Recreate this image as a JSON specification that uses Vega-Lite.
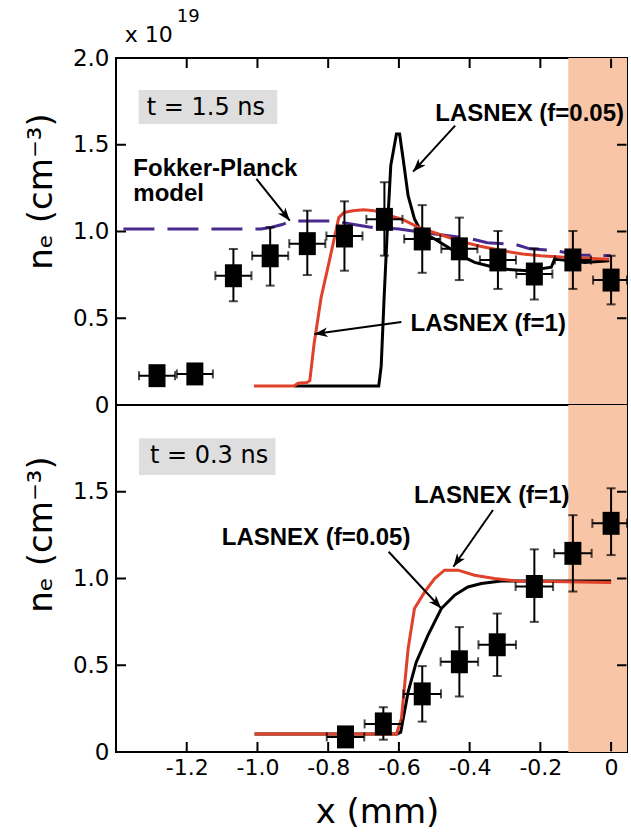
{
  "$schema": "https://vega.github.io/schema/vega-lite/v6.json",
  "background": "white",
  "padding": {"left": 23, "top": 7, "right": 0, "bottom": 0},
  "autosize": {"type": "pad"},
  "bounds": "flush",
  "spacing": 0,
  "config": {
    "view": {"stroke": "black", "strokeWidth": 2},
    "axis": {"domain": false, "grid": false, "ticks": false, "labelColor": "black", "labelFont": "DejaVu Sans", "titleFont": "DejaVu Sans", "titleColor": "black", "titleFontWeight": "normal", "labelFlush": false, "labelOverlap": false, "labelBound": false}
  },
  "datasets": {
    "top_pts": [
      {"x": -1.284, "y": 0.169, "ylo": 0.129, "yhi": 0.209, "xlo": -1.335, "xhi": -1.233},
      {"x": -1.177, "y": 0.179, "ylo": 0.139, "yhi": 0.219, "xlo": -1.228, "xhi": -1.126},
      {"x": -1.068, "y": 0.745, "ylo": 0.598, "yhi": 0.899, "xlo": -1.119, "xhi": -1.017},
      {"x": -0.964, "y": 0.86, "ylo": 0.688, "yhi": 1.024, "xlo": -1.015, "xhi": -0.913},
      {"x": -0.859, "y": 0.93, "ylo": 0.749, "yhi": 1.12, "xlo": -0.91, "xhi": -0.808},
      {"x": -0.754, "y": 0.974, "ylo": 0.774, "yhi": 1.174, "xlo": -0.805, "xhi": -0.703},
      {"x": -0.641, "y": 1.07, "ylo": 0.861, "yhi": 1.284, "xlo": -0.692, "xhi": -0.59},
      {"x": -0.534, "y": 0.957, "ylo": 0.762, "yhi": 1.152, "xlo": -0.585, "xhi": -0.483},
      {"x": -0.429, "y": 0.9, "ylo": 0.72, "yhi": 1.08, "xlo": -0.48, "xhi": -0.378},
      {"x": -0.32, "y": 0.836, "ylo": 0.669, "yhi": 1.003, "xlo": -0.371, "xhi": -0.269},
      {"x": -0.217, "y": 0.755, "ylo": 0.608, "yhi": 0.902, "xlo": -0.268, "xhi": -0.166},
      {"x": -0.108, "y": 0.836, "ylo": 0.669, "yhi": 1.003, "xlo": -0.159, "xhi": -0.057},
      {"x": 0.0, "y": 0.72, "ylo": 0.58, "yhi": 0.86, "xlo": -0.051, "xhi": 0.045}
    ],
    "bot_pts": [
      {"x": -0.751, "y": 0.087, "ylo": 0.047, "yhi": 0.127, "xlo": -0.804, "xhi": -0.698},
      {"x": -0.644, "y": 0.162, "ylo": 0.071, "yhi": 0.258, "xlo": -0.697, "xhi": -0.591},
      {"x": -0.534, "y": 0.335, "ylo": 0.175, "yhi": 0.495, "xlo": -0.587, "xhi": -0.481},
      {"x": -0.429, "y": 0.52, "ylo": 0.32, "yhi": 0.72, "xlo": -0.482, "xhi": -0.376},
      {"x": -0.322, "y": 0.618, "ylo": 0.438, "yhi": 0.798, "xlo": -0.375, "xhi": -0.269},
      {"x": -0.217, "y": 0.954, "ylo": 0.75, "yhi": 1.168, "xlo": -0.27, "xhi": -0.164},
      {"x": -0.108, "y": 1.145, "ylo": 0.925, "yhi": 1.365, "xlo": -0.161, "xhi": -0.055},
      {"x": 0.0, "y": 1.318, "ylo": 1.135, "yhi": 1.52, "xlo": -0.053, "xhi": 0.045}
    ],
    "top_lines": [
      {"model": "Fokker-Planck", "x": -1.379, "y": 1.015},
      {"model": "Fokker-Planck", "x": -0.99, "y": 1.015},
      {"model": "Fokker-Planck", "x": -0.96, "y": 1.025},
      {"model": "Fokker-Planck", "x": -0.93, "y": 1.04},
      {"model": "Fokker-Planck", "x": -0.905, "y": 1.06},
      {"model": "Fokker-Planck", "x": -0.78, "y": 1.06},
      {"model": "Fokker-Planck", "x": -0.74, "y": 1.045},
      {"model": "Fokker-Planck", "x": -0.68, "y": 1.025},
      {"model": "Fokker-Planck", "x": -0.6, "y": 1.015},
      {"model": "Fokker-Planck", "x": -0.55, "y": 1.0},
      {"model": "Fokker-Planck", "x": -0.46, "y": 0.975},
      {"model": "Fokker-Planck", "x": -0.4, "y": 0.96},
      {"model": "Fokker-Planck", "x": -0.35, "y": 0.935},
      {"model": "Fokker-Planck", "x": -0.27, "y": 0.925},
      {"model": "Fokker-Planck", "x": -0.23, "y": 0.9},
      {"model": "Fokker-Planck", "x": -0.16, "y": 0.89},
      {"model": "Fokker-Planck", "x": -0.09, "y": 0.865},
      {"model": "Fokker-Planck", "x": 0.0, "y": 0.86},
      {"model": "f=0.05", "x": -0.895, "y": 0.11},
      {"model": "f=0.05", "x": -0.657, "y": 0.11},
      {"model": "f=0.05", "x": -0.65, "y": 0.227},
      {"model": "f=0.05", "x": -0.642, "y": 0.61},
      {"model": "f=0.05", "x": -0.633, "y": 1.0},
      {"model": "f=0.05", "x": -0.623, "y": 1.38},
      {"model": "f=0.05", "x": -0.607, "y": 1.562},
      {"model": "f=0.05", "x": -0.598, "y": 1.562},
      {"model": "f=0.05", "x": -0.588, "y": 1.418},
      {"model": "f=0.05", "x": -0.574, "y": 1.206},
      {"model": "f=0.05", "x": -0.556, "y": 1.072},
      {"model": "f=0.05", "x": -0.537, "y": 1.0},
      {"model": "f=0.05", "x": -0.499, "y": 0.957},
      {"model": "f=0.05", "x": -0.461, "y": 0.909},
      {"model": "f=0.05", "x": -0.424, "y": 0.861},
      {"model": "f=0.05", "x": -0.386, "y": 0.822},
      {"model": "f=0.05", "x": -0.348, "y": 0.803},
      {"model": "f=0.05", "x": -0.311, "y": 0.784},
      {"model": "f=0.05", "x": -0.235, "y": 0.774},
      {"model": "f=0.05", "x": -0.169, "y": 0.794},
      {"model": "f=0.05", "x": -0.16, "y": 0.841},
      {"model": "f=0.05", "x": -0.075, "y": 0.822},
      {"model": "f=0.05", "x": -0.005, "y": 0.832},
      {"model": "f=1", "x": -1.01, "y": 0.11},
      {"model": "f=1", "x": -0.897, "y": 0.11},
      {"model": "f=1", "x": -0.885, "y": 0.125},
      {"model": "f=1", "x": -0.86, "y": 0.13},
      {"model": "f=1", "x": -0.852, "y": 0.14},
      {"model": "f=1", "x": -0.84, "y": 0.35},
      {"model": "f=1", "x": -0.82, "y": 0.62},
      {"model": "f=1", "x": -0.8, "y": 0.8},
      {"model": "f=1", "x": -0.785, "y": 0.94},
      {"model": "f=1", "x": -0.77, "y": 1.08},
      {"model": "f=1", "x": -0.755, "y": 1.11},
      {"model": "f=1", "x": -0.73, "y": 1.12},
      {"model": "f=1", "x": -0.7, "y": 1.125},
      {"model": "f=1", "x": -0.67, "y": 1.12},
      {"model": "f=1", "x": -0.64, "y": 1.1},
      {"model": "f=1", "x": -0.59, "y": 1.07},
      {"model": "f=1", "x": -0.54, "y": 1.02},
      {"model": "f=1", "x": -0.48, "y": 0.98},
      {"model": "f=1", "x": -0.42, "y": 0.94},
      {"model": "f=1", "x": -0.37, "y": 0.915},
      {"model": "f=1", "x": -0.31, "y": 0.89},
      {"model": "f=1", "x": -0.25, "y": 0.87},
      {"model": "f=1", "x": -0.2, "y": 0.86},
      {"model": "f=1", "x": -0.12, "y": 0.85},
      {"model": "f=1", "x": -0.006, "y": 0.84}
    ],
    "bot_lines": [
      {"model": "f=0.05", "x": -1.008, "y": 0.104},
      {"model": "f=0.05", "x": -0.605, "y": 0.104},
      {"model": "f=0.05", "x": -0.595, "y": 0.114},
      {"model": "f=0.05", "x": -0.574, "y": 0.345},
      {"model": "f=0.05", "x": -0.551, "y": 0.518},
      {"model": "f=0.05", "x": -0.518, "y": 0.672},
      {"model": "f=0.05", "x": -0.48, "y": 0.827},
      {"model": "f=0.05", "x": -0.443, "y": 0.903},
      {"model": "f=0.05", "x": -0.405, "y": 0.951},
      {"model": "f=0.05", "x": -0.367, "y": 0.971},
      {"model": "f=0.05", "x": -0.311, "y": 0.985},
      {"model": "f=0.05", "x": 0.0, "y": 0.985},
      {"model": "f=1", "x": -1.008, "y": 0.104},
      {"model": "f=1", "x": -0.607, "y": 0.104},
      {"model": "f=1", "x": -0.593, "y": 0.191},
      {"model": "f=1", "x": -0.574, "y": 0.595},
      {"model": "f=1", "x": -0.556, "y": 0.827},
      {"model": "f=1", "x": -0.527, "y": 0.923},
      {"model": "f=1", "x": -0.499, "y": 1.0},
      {"model": "f=1", "x": -0.471, "y": 1.048},
      {"model": "f=1", "x": -0.433, "y": 1.048},
      {"model": "f=1", "x": -0.386, "y": 1.019},
      {"model": "f=1", "x": -0.33, "y": 1.0},
      {"model": "f=1", "x": -0.264, "y": 0.985},
      {"model": "f=1", "x": 0.0, "y": 0.977}
    ]
  },
  "vconcat": [
    {
      "width": 511,
      "height": 347,
      "resolve": {"axis": {"x": "independent", "y": "independent"}},
      "layer": [
        {
          "data": {"values": [{"x": -0.121, "x2": 0.045, "y": 0, "y2": 2}]},
          "mark": {"type": "rect", "color": "#f8c5a6"},
          "encoding": {
            "x": {"field": "x", "type": "quantitative", "scale": {"domain": [-1.4, 0.045], "nice": false, "zero": false}, "axis": null},
            "x2": {"field": "x2"},
            "y": {"field": "y", "type": "quantitative", "scale": {"domain": [0, 2], "nice": false, "zero": false},
                  "axis": {"orient": "left", "values": [0, 0.5, 1, 1.5, 2], "labelPadding": 7, "labelFontSize": 23,
                           "labelExpr": "datum.value == 0 ? '0' : format(datum.value, '.1f')",
                           "title": "nₑ (cm⁻³)", "titleFontSize": 34, "titleX": -65, "titleY": 133, "titleBaseline": "alphabetic", "titleAlign": "center", "titleAngle": 270}},
            "y2": {"field": "y2"}
          }
        },
        {
          "data": {"values": [{"x": -1.336, "x2": -0.944, "y": 1.62, "y2": 1.816}]},
          "mark": {"type": "rect", "color": "#dedede"},
          "encoding": {
            "x": {"field": "x", "type": "quantitative", "scale": {"domain": [-1.4, 0.045], "nice": false, "zero": false}, "axis": null},
            "x2": {"field": "x2"},
            "y": {"field": "y", "type": "quantitative", "scale": {"domain": [0, 2], "nice": false, "zero": false}, "axis": null},
            "y2": {"field": "y2"}
          }
        },
        {
          "data": {"name": "top_lines"},
          "transform": [{"filter": "datum.model == 'Fokker-Planck'"}],
          "mark": {"type": "line", "color": "#4a2a8e", "strokeWidth": 3, "strokeDash": [31, 13]},
          "encoding": {
            "x": {"field": "x", "type": "quantitative", "scale": {"domain": [-1.4, 0.045], "nice": false, "zero": false}, "axis": null},
            "y": {"field": "y", "type": "quantitative", "scale": {"domain": [0, 2], "nice": false, "zero": false}, "axis": null}
          }
        },
        {
          "data": {"name": "top_lines"},
          "transform": [{"filter": "datum.model == 'f=0.05'"}],
          "mark": {"type": "line", "color": "black", "strokeWidth": 3},
          "encoding": {
            "x": {"field": "x", "type": "quantitative", "scale": {"domain": [-1.4, 0.045], "nice": false, "zero": false}, "axis": null},
            "y": {"field": "y", "type": "quantitative", "scale": {"domain": [0, 2], "nice": false, "zero": false}, "axis": null}
          }
        },
        {
          "data": {"name": "top_lines"},
          "transform": [{"filter": "datum.model == 'f=1'"}],
          "mark": {"type": "line", "color": "#e0412b", "strokeWidth": 3},
          "encoding": {
            "x": {"field": "x", "type": "quantitative", "scale": {"domain": [-1.4, 0.045], "nice": false, "zero": false}, "axis": null},
            "y": {"field": "y", "type": "quantitative", "scale": {"domain": [0, 2], "nice": false, "zero": false}, "axis": null}
          }
        },
        {
          "data": {"name": "top_pts"},
          "mark": {"type": "errorbar", "color": "black", "ticks": {"size": 9, "thickness": 2}, "rule": {"strokeWidth": 2}},
          "encoding": {
            "x": {"field": "x", "type": "quantitative", "scale": {"domain": [-1.4, 0.045], "nice": false, "zero": false}, "axis": null},
            "y": {"field": "ylo", "type": "quantitative", "scale": {"domain": [0, 2], "nice": false, "zero": false}, "axis": null},
            "y2": {"field": "yhi"}
          }
        },
        {
          "data": {"name": "top_pts"},
          "mark": {"type": "errorbar", "color": "black", "ticks": {"size": 9, "thickness": 2}, "rule": {"strokeWidth": 2}},
          "encoding": {
            "y": {"field": "y", "type": "quantitative", "scale": {"domain": [0, 2], "nice": false, "zero": false}, "axis": null},
            "x": {"field": "xlo", "type": "quantitative", "scale": {"domain": [-1.4, 0.045], "nice": false, "zero": false}, "axis": null},
            "x2": {"field": "xhi"}
          }
        },
        {
          "data": {"name": "top_pts"},
          "mark": {"type": "point", "shape": "M-1,-1.35L1,-1.35L1,1.35L-1,1.35Z", "size": 289, "filled": true, "color": "black", "opacity": 1},
          "encoding": {
            "x": {"field": "x", "type": "quantitative", "scale": {"domain": [-1.4, 0.045], "nice": false, "zero": false}, "axis": null},
            "y": {"field": "y", "type": "quantitative", "scale": {"domain": [0, 2], "nice": false, "zero": false}, "axis": null}
          }
        },
        {
          "data": {"values": [
            {"x": -0.441, "y": 1.61, "x2": -0.56, "y2": 1.345},
            {"x": -0.593, "y": 0.478, "x2": -0.839, "y2": 0.409},
            {"x": -1.003, "y": 1.303, "x2": -0.9085, "y2": 1.062},
            {"x": -1.2, "y": 1.996, "x2": -1.2, "y2": 1.9424},
            {"x": -1.0, "y": 1.996, "x2": -1.0, "y2": 1.9424},
            {"x": -0.8, "y": 1.996, "x2": -0.8, "y2": 1.9424},
            {"x": -0.6, "y": 1.996, "x2": -0.6, "y2": 1.9424},
            {"x": -0.4, "y": 1.996, "x2": -0.4, "y2": 1.9424},
            {"x": -0.2, "y": 1.996, "x2": -0.2, "y2": 1.9424},
            {"x": 0.0, "y": 1.996, "x2": 0.0, "y2": 1.9424},
            {"x": -1.3985, "y": 0.5, "x2": -1.3718, "y2": 0.5},
            {"x": -1.3985, "y": 1.0, "x2": -1.3718, "y2": 1.0},
            {"x": -1.3985, "y": 1.5, "x2": -1.3718, "y2": 1.5},
            {"x": 0.0435, "y": 0.5, "x2": 0.0168, "y2": 0.5},
            {"x": 0.0435, "y": 1.0, "x2": 0.0168, "y2": 1.0},
            {"x": 0.0435, "y": 1.5, "x2": 0.0168, "y2": 1.5}
          ]},
          "mark": {"type": "rule", "color": "black", "strokeWidth": 2},
          "encoding": {
            "x": {"field": "x", "type": "quantitative", "scale": {"domain": [-1.4, 0.045], "nice": false, "zero": false}, "axis": null},
            "y": {"field": "y", "type": "quantitative", "scale": {"domain": [0, 2], "nice": false, "zero": false}, "axis": null},
            "x2": {"field": "x2"},
            "y2": {"field": "y2"}
          }
        },
        {
          "data": {"values": [{"x": -0.56, "y": 1.345}]},
          "mark": {"type": "point", "shape": "M0,0L0.8,2.2L0,1.6L-0.8,2.2Z", "size": 144, "angle": 222.6, "filled": true, "color": "black", "opacity": 1},
          "encoding": {
            "x": {"field": "x", "type": "quantitative", "scale": {"domain": [-1.4, 0.045], "nice": false, "zero": false}, "axis": null},
            "y": {"field": "y", "type": "quantitative", "scale": {"domain": [0, 2], "nice": false, "zero": false}, "axis": null}
          }
        },
        {
          "data": {"values": [{"x": -0.839, "y": 0.409}]},
          "mark": {"type": "point", "shape": "M0,0L0.8,2.2L0,1.6L-0.8,2.2Z", "size": 144, "angle": 262.1, "filled": true, "color": "black", "opacity": 1},
          "encoding": {
            "x": {"field": "x", "type": "quantitative", "scale": {"domain": [-1.4, 0.045], "nice": false, "zero": false}, "axis": null},
            "y": {"field": "y", "type": "quantitative", "scale": {"domain": [0, 2], "nice": false, "zero": false}, "axis": null}
          }
        },
        {
          "data": {"values": [{"x": -0.9085, "y": 1.062}]},
          "mark": {"type": "point", "shape": "M0,0L0.8,2.2L0,1.6L-0.8,2.2Z", "size": 144, "angle": 141.4, "filled": true, "color": "black", "opacity": 1},
          "encoding": {
            "x": {"field": "x", "type": "quantitative", "scale": {"domain": [-1.4, 0.045], "nice": false, "zero": false}, "axis": null},
            "y": {"field": "y", "type": "quantitative", "scale": {"domain": [0, 2], "nice": false, "zero": false}, "axis": null}
          }
        },
        {
          "data": {"values": [
            {"x": -0.497, "y": 1.639, "label": "LASNEX (f=0.05)"},
            {"x": -0.567, "y": 0.428, "label": "LASNEX (f=1)"},
            {"x": -1.351, "y": 1.322, "label": "Fokker-Planck"},
            {"x": -1.351, "y": 1.178, "label": "model"}
          ]},
          "mark": {"type": "text", "font": "Liberation Sans", "fontWeight": "bold", "fontSize": 24, "align": "left", "baseline": "alphabetic", "color": "black"},
          "encoding": {
            "x": {"field": "x", "type": "quantitative", "scale": {"domain": [-1.4, 0.045], "nice": false, "zero": false}, "axis": null},
            "y": {"field": "y", "type": "quantitative", "scale": {"domain": [0, 2], "nice": false, "zero": false}, "axis": null},
            "text": {"field": "label"}
          }
        },
        {
          "data": {"values": [{"x": -1.313, "y": 1.671, "label": "t = 1.5 ns"}]},
          "mark": {"type": "text", "font": "DejaVu Sans", "fontSize": 24, "align": "left", "baseline": "alphabetic", "color": "black"},
          "encoding": {
            "x": {"field": "x", "type": "quantitative", "scale": {"domain": [-1.4, 0.045], "nice": false, "zero": false}, "axis": null},
            "y": {"field": "y", "type": "quantitative", "scale": {"domain": [0, 2], "nice": false, "zero": false}, "axis": null},
            "text": {"field": "label"}
          }
        },
        {
          "data": {"values": [{"x": -1.375, "y": 2.092, "label": "x 10"}]},
          "mark": {"type": "text", "font": "DejaVu Sans", "fontSize": 22, "align": "left", "baseline": "alphabetic", "color": "black"},
          "encoding": {
            "x": {"field": "x", "type": "quantitative", "scale": {"domain": [-1.4, 0.045], "nice": false, "zero": false}, "axis": null},
            "y": {"field": "y", "type": "quantitative", "scale": {"domain": [0, 2], "nice": false, "zero": false}, "axis": null},
            "text": {"field": "label"}
          }
        },
        {
          "data": {"values": [{"x": -1.228, "y": 2.207, "label": "19"}]},
          "mark": {"type": "text", "font": "DejaVu Sans", "fontSize": 18, "align": "left", "baseline": "alphabetic", "color": "black"},
          "encoding": {
            "x": {"field": "x", "type": "quantitative", "scale": {"domain": [-1.4, 0.045], "nice": false, "zero": false}, "axis": null},
            "y": {"field": "y", "type": "quantitative", "scale": {"domain": [0, 2], "nice": false, "zero": false}, "axis": null},
            "text": {"field": "label"}
          }
        }
      ]
    },
    {
      "width": 511,
      "height": 347,
      "resolve": {"axis": {"x": "independent", "y": "independent"}},
      "layer": [
        {
          "data": {"values": [{"x": -0.121, "x2": 0.045, "y": 0, "y2": 2}]},
          "mark": {"type": "rect", "color": "#f8c5a6"},
          "encoding": {
            "x": {"field": "x", "type": "quantitative", "scale": {"domain": [-1.4, 0.045], "nice": false, "zero": false},
                  "axis": {"orient": "bottom", "values": [-1.2, -1, -0.8, -0.6, -0.4, -0.2, 0], "labelPadding": 5, "labelFontSize": 22,
                           "labelExpr": "datum.value == 0 ? '0' : '-' + format(-datum.value, '.1f')",
                           "title": "x (mm)", "titleFontSize": 34, "titleX": 261, "titleY": 70, "titleBaseline": "alphabetic", "titleAlign": "center"}},
            "x2": {"field": "x2"},
            "y": {"field": "y", "type": "quantitative", "scale": {"domain": [0, 2], "nice": false, "zero": false},
                  "axis": {"orient": "left", "values": [0, 0.5, 1, 1.5], "labelPadding": 7, "labelFontSize": 23,
                           "labelExpr": "datum.value == 0 ? '0' : format(datum.value, '.1f')",
                           "title": "nₑ (cm⁻³)", "titleFontSize": 34, "titleX": -65, "titleY": 129, "titleBaseline": "alphabetic", "titleAlign": "center", "titleAngle": 270}},
            "y2": {"field": "y2"}
          }
        },
        {
          "data": {"values": [{"x": -1.335, "x2": -0.949, "y": 1.597, "y2": 1.809}]},
          "mark": {"type": "rect", "color": "#dedede"},
          "encoding": {
            "x": {"field": "x", "type": "quantitative", "scale": {"domain": [-1.4, 0.045], "nice": false, "zero": false}, "axis": null},
            "x2": {"field": "x2"},
            "y": {"field": "y", "type": "quantitative", "scale": {"domain": [0, 2], "nice": false, "zero": false}, "axis": null},
            "y2": {"field": "y2"}
          }
        },
        {
          "data": {"name": "bot_lines"},
          "transform": [{"filter": "datum.model == 'f=0.05'"}],
          "mark": {"type": "line", "color": "black", "strokeWidth": 3},
          "encoding": {
            "x": {"field": "x", "type": "quantitative", "scale": {"domain": [-1.4, 0.045], "nice": false, "zero": false}, "axis": null},
            "y": {"field": "y", "type": "quantitative", "scale": {"domain": [0, 2], "nice": false, "zero": false}, "axis": null}
          }
        },
        {
          "data": {"name": "bot_lines"},
          "transform": [{"filter": "datum.model == 'f=1'"}],
          "mark": {"type": "line", "color": "#e0412b", "strokeWidth": 3},
          "encoding": {
            "x": {"field": "x", "type": "quantitative", "scale": {"domain": [-1.4, 0.045], "nice": false, "zero": false}, "axis": null},
            "y": {"field": "y", "type": "quantitative", "scale": {"domain": [0, 2], "nice": false, "zero": false}, "axis": null}
          }
        },
        {
          "data": {"name": "bot_pts"},
          "mark": {"type": "errorbar", "color": "black", "ticks": {"size": 9, "thickness": 2}, "rule": {"strokeWidth": 2}},
          "encoding": {
            "x": {"field": "x", "type": "quantitative", "scale": {"domain": [-1.4, 0.045], "nice": false, "zero": false}, "axis": null},
            "y": {"field": "ylo", "type": "quantitative", "scale": {"domain": [0, 2], "nice": false, "zero": false}, "axis": null},
            "y2": {"field": "yhi"}
          }
        },
        {
          "data": {"name": "bot_pts"},
          "mark": {"type": "errorbar", "color": "black", "ticks": {"size": 9, "thickness": 2}, "rule": {"strokeWidth": 2}},
          "encoding": {
            "y": {"field": "y", "type": "quantitative", "scale": {"domain": [0, 2], "nice": false, "zero": false}, "axis": null},
            "x": {"field": "xlo", "type": "quantitative", "scale": {"domain": [-1.4, 0.045], "nice": false, "zero": false}, "axis": null},
            "x2": {"field": "xhi"}
          }
        },
        {
          "data": {"name": "bot_pts"},
          "mark": {"type": "point", "shape": "M-1,-1.35L1,-1.35L1,1.35L-1,1.35Z", "size": 289, "filled": true, "color": "black", "opacity": 1},
          "encoding": {
            "x": {"field": "x", "type": "quantitative", "scale": {"domain": [-1.4, 0.045], "nice": false, "zero": false}, "axis": null},
            "y": {"field": "y", "type": "quantitative", "scale": {"domain": [0, 2], "nice": false, "zero": false}, "axis": null}
          }
        },
        {
          "data": {"values": [
            {"x": -0.629, "y": 1.154, "x2": -0.48, "y2": 0.827},
            {"x": -0.334, "y": 1.395, "x2": -0.446, "y2": 1.068},
            {"x": -1.2, "y": 0.004, "x2": -1.2, "y2": 0.0576},
            {"x": -1.0, "y": 0.004, "x2": -1.0, "y2": 0.0576},
            {"x": -0.8, "y": 0.004, "x2": -0.8, "y2": 0.0576},
            {"x": -0.6, "y": 0.004, "x2": -0.6, "y2": 0.0576},
            {"x": -0.4, "y": 0.004, "x2": -0.4, "y2": 0.0576},
            {"x": -0.2, "y": 0.004, "x2": -0.2, "y2": 0.0576},
            {"x": 0.0, "y": 0.004, "x2": 0.0, "y2": 0.0576},
            {"x": -1.3985, "y": 0.5, "x2": -1.3718, "y2": 0.5},
            {"x": -1.3985, "y": 1.0, "x2": -1.3718, "y2": 1.0},
            {"x": -1.3985, "y": 1.5, "x2": -1.3718, "y2": 1.5},
            {"x": 0.0435, "y": 0.5, "x2": 0.0168, "y2": 0.5},
            {"x": 0.0435, "y": 1.0, "x2": 0.0168, "y2": 1.0},
            {"x": 0.0435, "y": 1.5, "x2": 0.0168, "y2": 1.5}
          ]},
          "mark": {"type": "rule", "color": "black", "strokeWidth": 2},
          "encoding": {
            "x": {"field": "x", "type": "quantitative", "scale": {"domain": [-1.4, 0.045], "nice": false, "zero": false}, "axis": null},
            "y": {"field": "y", "type": "quantitative", "scale": {"domain": [0, 2], "nice": false, "zero": false}, "axis": null},
            "x2": {"field": "x2"},
            "y2": {"field": "y2"}
          }
        },
        {
          "data": {"values": [{"x": -0.48, "y": 0.827}]},
          "mark": {"type": "point", "shape": "M0,0L0.8,2.2L0,1.6L-0.8,2.2Z", "size": 144, "angle": 137.1, "filled": true, "color": "black", "opacity": 1},
          "encoding": {
            "x": {"field": "x", "type": "quantitative", "scale": {"domain": [-1.4, 0.045], "nice": false, "zero": false}, "axis": null},
            "y": {"field": "y", "type": "quantitative", "scale": {"domain": [0, 2], "nice": false, "zero": false}, "axis": null}
          }
        },
        {
          "data": {"values": [{"x": -0.446, "y": 1.068}]},
          "mark": {"type": "point", "shape": "M0,0L0.8,2.2L0,1.6L-0.8,2.2Z", "size": 144, "angle": 215.3, "filled": true, "color": "black", "opacity": 1},
          "encoding": {
            "x": {"field": "x", "type": "quantitative", "scale": {"domain": [-1.4, 0.045], "nice": false, "zero": false}, "axis": null},
            "y": {"field": "y", "type": "quantitative", "scale": {"domain": [0, 2], "nice": false, "zero": false}, "axis": null}
          }
        },
        {
          "data": {"values": [
            {"x": -1.101, "y": 1.192, "label": "LASNEX (f=0.05)"},
            {"x": -0.557, "y": 1.434, "label": "LASNEX (f=1)"}
          ]},
          "mark": {"type": "text", "font": "Liberation Sans", "fontWeight": "bold", "fontSize": 24, "align": "left", "baseline": "alphabetic", "color": "black"},
          "encoding": {
            "x": {"field": "x", "type": "quantitative", "scale": {"domain": [-1.4, 0.045], "nice": false, "zero": false}, "axis": null},
            "y": {"field": "y", "type": "quantitative", "scale": {"domain": [0, 2], "nice": false, "zero": false}, "axis": null},
            "text": {"field": "label"}
          }
        },
        {
          "data": {"values": [{"x": -1.304, "y": 1.665, "label": "t = 0.3 ns"}]},
          "mark": {"type": "text", "font": "DejaVu Sans", "fontSize": 24, "align": "left", "baseline": "alphabetic", "color": "black"},
          "encoding": {
            "x": {"field": "x", "type": "quantitative", "scale": {"domain": [-1.4, 0.045], "nice": false, "zero": false}, "axis": null},
            "y": {"field": "y", "type": "quantitative", "scale": {"domain": [0, 2], "nice": false, "zero": false}, "axis": null},
            "text": {"field": "label"}
          }
        }
      ]
    }
  ]
}
